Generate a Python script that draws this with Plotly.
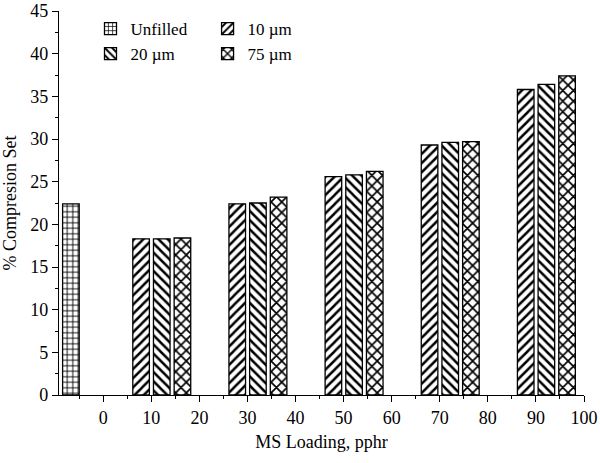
import plotly.graph_objects as go

# MS loading (pphr) and % compression set
LOADING = [10, 30, 50, 70, 90]
UNFILLED_X = [0]
UNFILLED = [22.4]
SIZE_10UM = [18.3, 22.4, 25.6, 29.3, 35.8]
SIZE_20UM = [18.3, 22.5, 25.8, 29.6, 36.4]
SIZE_75UM = [18.4, 23.2, 26.2, 29.7, 37.4]

FONT = "Liberation Serif"
BAR_W = 3.45


def _pattern(shape, size, solidity):
    return dict(shape=shape, fgcolor="black", fgopacity=1, bgcolor="white",
                size=size, solidity=solidity, fillmode="overlay")


def _bar(x, y, name, offset, pattern, legend):
    return go.Bar(
        x=x, y=y, name=name, width=BAR_W, offset=offset,
        marker=dict(color="white", line=dict(color="black", width=1.3),
                    pattern=pattern),
        legend=legend,
    )


fig = go.Figure()
fig.add_trace(_bar(UNFILLED_X, UNFILLED, "Unfilled", -8.45, _pattern("+", 5.5, 0.3), "legend"))
fig.add_trace(_bar(LOADING, SIZE_10UM, "10 µm", -3.85, _pattern("/", 6.5, 0.38), "legend2"))
fig.add_trace(_bar(LOADING, SIZE_20UM, "20 µm", 0.45, _pattern("\\", 6.5, 0.38), "legend"))
fig.add_trace(_bar(LOADING, SIZE_75UM, "75 µm", 4.75, _pattern("x", 7.5, 0.4), "legend2"))

axis_common = dict(
    showgrid=False, zeroline=False, automargin=False,
    showline=True, linecolor="black", linewidth=1.3,
    ticks="outside", ticklen=6, tickwidth=1.3, tickcolor="black",
    tickfont=dict(family=FONT, size=18, color="black"),
)

legend_common = dict(
    y=1.0, xanchor="left", yanchor="top",
    orientation="v", bgcolor="rgba(0,0,0,0)",
    font=dict(family=FONT, size=17), tracegroupgap=0,
)

fig.update_layout(
    width=600, height=463,
    paper_bgcolor="white", plot_bgcolor="white",
    barmode="overlay",
    margin=dict(l=59, r=16, t=11, b=68),
    font=dict(family=FONT, size=18, color="black"),
    xaxis=dict(
        **axis_common,
        range=[-9.2, 100], tick0=0, dtick=10,
        minor=dict(ticks="outside", ticklen=3, dtick=5, tick0=0,
                   tickcolor="black", tickwidth=1.3),
        title=dict(text="MS Loading, pphr", font=dict(family=FONT, size=18), standoff=8),
    ),
    yaxis=dict(
        **axis_common,
        range=[0, 45.001], tick0=0, dtick=5,
        minor=dict(ticks="outside", ticklen=3, dtick=2.5, tick0=0,
                   tickcolor="black", tickwidth=1.3),
        title=dict(text="% Compresion Set", font=dict(family=FONT, size=18)),
    ),
    legend=dict(x=0.06, **legend_common),
    legend2=dict(x=0.283, **legend_common),
    showlegend=True,
)

# drop the browser's default body margin so the 600x463 figure fills the window
fig.write_html("out.html", config={"displayModeBar": False},
               post_script="document.body.style.margin='0';")
